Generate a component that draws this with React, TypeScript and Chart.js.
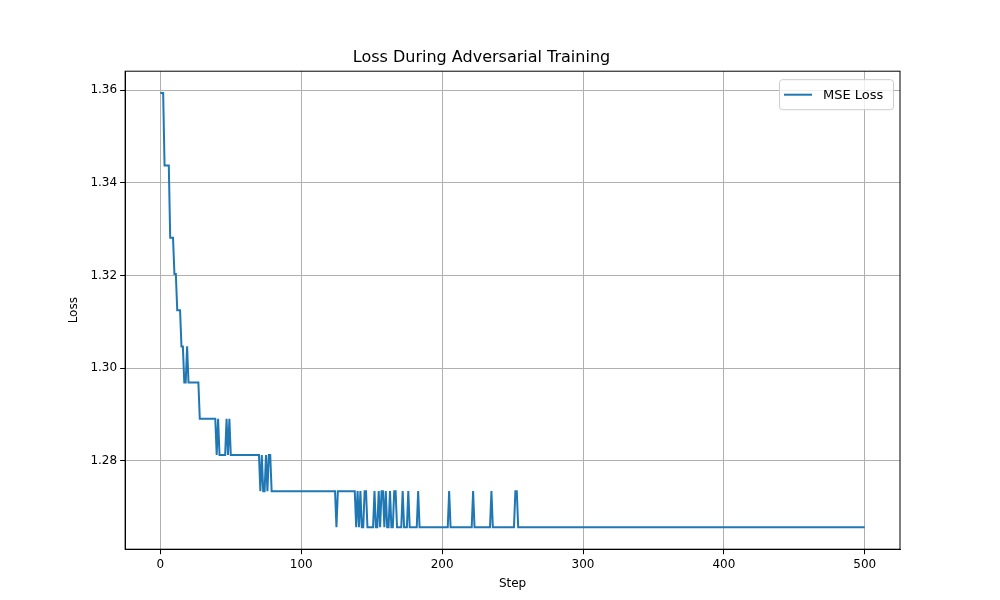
import { useEffect, useRef } from "react";
import { Chart, registerables } from "chart.js";

Chart.register(...registerables);

// loss levels in units of 1/128, as [level, run length]
const runLevels = [174, 172, 170, 169, 168, 167, 166, 167, 166, 165, 164, 165, 164, 165, 164, 165, 164, 163, 164, 163, 164, 163, 164, 163, 162, 163, 162, 163, 162, 163, 162, 163, 162, 163, 162, 163, 162, 163, 162, 163, 162, 163, 162, 163, 162, 163, 162, 163, 162, 163, 162, 163, 162, 163, 162];
const runLengths = [3, 4, 3, 2, 3, 2, 2, 1, 8, 12, 1, 1, 5, 1, 1, 1, 21, 1, 1, 2, 1, 1, 2, 46, 1, 13, 1, 1, 1, 1, 2, 2, 5, 1, 2, 1, 1, 2, 1, 1, 2, 1, 2, 2, 4, 1, 3, 1, 6, 1, 21, 1, 16, 1, 12];
const tailRun = { level: 163, len: 1, rest: [[162, 16], [163, 2], [162, 247]] };
const xTicks = [0, 100, 200, 300, 400, 500];
const yTicks = [1.28, 1.3, 1.32, 1.34, 1.36];

const points: { x: number; y: number }[] = [];
{
  const runs: [number, number][] = runLevels.map((l, i) => [l, runLengths[i]]);
  runs.push([tailRun.level, tailRun.len]);
  tailRun.rest.forEach((r) => runs.push([r[0], r[1]]));
  let step = 0;
  for (const [lvl, n] of runs) {
    for (let k = 0; k < n && step <= 500; k++) points.push({ x: step++, y: lvl / 128 });
  }
}

const legendBox = {
  id: "legendBox",
  afterDraw(chart: any) {
    const { ctx, chartArea } = chart;
    ctx.save();
    ctx.strokeStyle = "#000";
    ctx.lineWidth = 1;
    ctx.strokeRect(chartArea.left, chartArea.top, chartArea.right - chartArea.left, chartArea.bottom - chartArea.top);
    const w = 114, h = 30;
    const x = chartArea.right - w - 7, y = chartArea.top + 8;
    ctx.fillStyle = "rgba(255,255,255,0.8)";
    ctx.strokeStyle = "#cccccc";
    ctx.beginPath();
    ctx.roundRect(x + 0.5, y + 0.5, w, h, 3);
    ctx.fill();
    ctx.stroke();
    ctx.strokeStyle = "#1f77b4";
    ctx.lineWidth = 2;
    ctx.beginPath();
    ctx.moveTo(x + 5, y + 15.5);
    ctx.lineTo(x + 33, y + 15.5);
    ctx.stroke();
    ctx.fillStyle = "#000";
    ctx.font = "13px 'DejaVu Sans'";
    ctx.textBaseline = "middle";
    ctx.fillText("MSE Loss", x + 44, y + 16);
    ctx.restore();
  },
};

export default function App() {
  const canvasRef = useRef<HTMLCanvasElement>(null);

  useEffect(() => {
    document.body.style.margin = "0";
    const font = { family: "DejaVu Sans", size: 12 };
    const chart = new Chart(canvasRef.current!.getContext("2d")!, {
      type: "line",
      data: {
        datasets: [
          {
            label: "MSE Loss",
            data: points,
            borderColor: "#1f77b4",
            borderWidth: 2,
            pointRadius: 0,
            tension: 0,
          },
        ],
      },
      plugins: [legendBox],
      options: {
        animation: false,
        responsive: false,
        layout: { padding: { left: 63, right: 100, top: 48, bottom: 5 } },
        plugins: {
          legend: { display: false },
          tooltip: { enabled: false },
          title: {
            display: true,
            text: "Loss During Adversarial Training",
            color: "#000",
            font: { family: "DejaVu Sans", size: 16, weight: "normal" },
            padding: { top: 0, bottom: 4 },
          },
        },
        scales: {
          x: {
            type: "linear",
            min: -25,
            max: 525,
            afterBuildTicks: (s: any) => { s.ticks = xTicks.map((v) => ({ value: v })); },
            ticks: { color: "#000", font, maxRotation: 0 },
            grid: { color: "#b0b0b0", tickColor: "#000", tickLength: 5 },
            border: { color: "#000" },
            title: { display: true, text: "Step", color: "#000", font, padding: { top: 2 } },
          },
          y: {
            min: 1.2609,
            max: 1.3641,
            afterBuildTicks: (s: any) => { s.ticks = yTicks.map((v) => ({ value: v })); },
            ticks: { color: "#000", font, callback: (v: any) => Number(v).toFixed(2) },
            grid: { color: "#b0b0b0", tickColor: "#000", tickLength: 5 },
            border: { color: "#000" },
            title: { display: true, text: "Loss", color: "#000", font, padding: { bottom: 6 } },
          },
        },
      },
    });
    return () => chart.destroy();
  }, []);

  return <canvas ref={canvasRef} width={1000} height={600} style={{ display: "block" }} />;
}
